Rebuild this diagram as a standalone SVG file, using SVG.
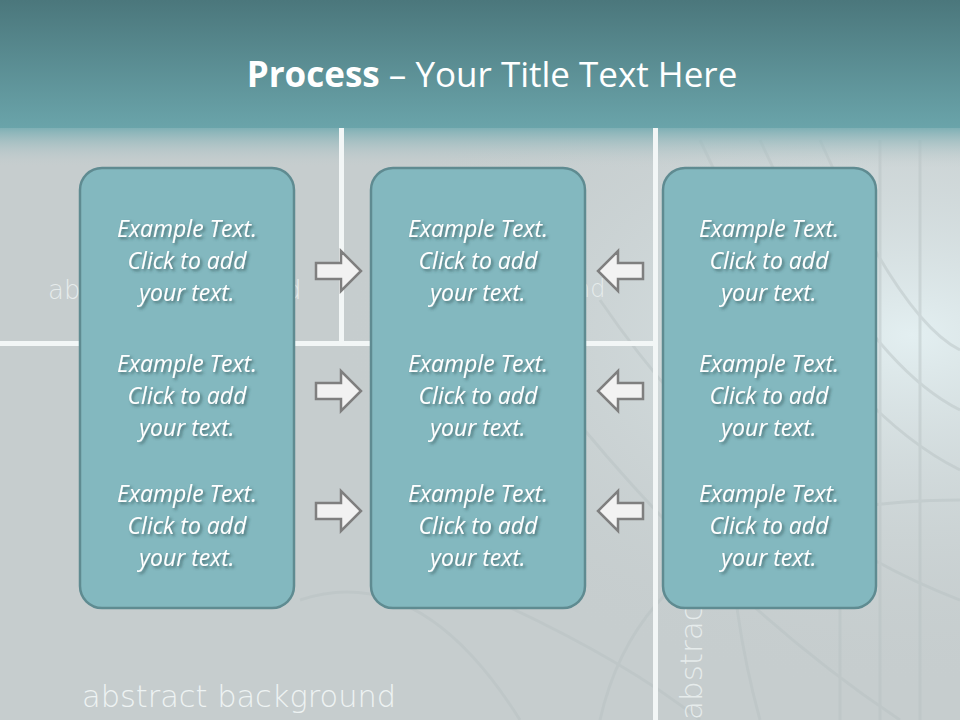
<svg xmlns="http://www.w3.org/2000/svg" width="960" height="720" viewBox="0 0 960 720">
<defs>
<linearGradient id="top" x1="0" y1="0" x2="0" y2="1">
<stop offset="0" stop-color="#4b777c"/>
<stop offset="1" stop-color="#6aa4aa"/>
</linearGradient>
<linearGradient id="fade" x1="0" y1="0" x2="0" y2="1">
<stop offset="0" stop-color="#7fb0b5"/>
<stop offset="1" stop-color="#c6cecf" stop-opacity="0"/>
</linearGradient>
<radialGradient id="glow" cx="0.95" cy="0.35" r="0.6">
<stop offset="0" stop-color="#e3eff1"/>
<stop offset="1" stop-color="#c6cdce" stop-opacity="0"/>
</radialGradient>
<filter id="sh" x="-10%" y="-10%" width="130%" height="140%">
<feDropShadow dx="2" dy="2" stdDeviation="1.5" flood-color="#2f4f53" flood-opacity="0.7"/>
</filter>
<style>
.box{fill:#83b8bf;stroke:#5f8b91;stroke-width:2.5}
.t{font-family:"Open Sans","Liberation Sans",sans-serif;font-style:italic;font-size:23px;fill:#ffffff;text-anchor:middle}
.arr{fill:#f2f2f2;stroke:#7f7f7f;stroke-width:2.5;stroke-linejoin:miter}
.grid{fill:none;stroke:#b7c1c2;stroke-width:3;opacity:0.45}
</style>
</defs>
<g id="background">
<rect width="960" height="720" fill="#c6cdce"/>
<rect x="0" y="128" width="960" height="592" fill="url(#glow)"/>
<g class="grid">
<path d="M700 140 Q820 400 960 470"/>
<path d="M760 140 Q860 360 960 410"/>
<path d="M820 140 Q900 320 960 350"/>
<path d="M600 300 Q750 520 960 600"/>
<path d="M560 400 Q720 600 900 720"/>
<path d="M400 560 Q600 640 700 720"/>
<path d="M880 140 L880 720"/>
<path d="M920 140 L920 720"/>
<path d="M840 170 L840 720"/>
<path d="M760 300 Q700 500 760 720"/>
<path d="M300 600 Q420 560 520 720"/>
<path d="M600 720 Q650 500 960 500"/>
</g>
<rect x="0" y="0" width="960" height="128" fill="url(#top)"/>
<rect x="0" y="128" width="960" height="40" fill="url(#fade)"/>
<rect x="339" y="128" width="5" height="214" fill="#f2f6f6"/>
<rect x="0" y="341" width="658" height="5" fill="#f2f6f6"/>
<rect x="653" y="128" width="5" height="592" fill="#f2f6f6"/>
<text x="48" y="299" font-family="DejaVu Sans, sans-serif" font-size="26" fill="#e6ecec" font-weight="200">ab</text>
<text x="285" y="299" font-family="DejaVu Sans, sans-serif" font-size="26" fill="#e6ecec" font-weight="200">d</text>
<text x="575" y="297" font-family="DejaVu Sans, sans-serif" font-size="24" fill="#e6ecec" font-weight="200">nd</text>
<text x="82" y="707" font-family="DejaVu Sans, sans-serif" font-size="31" fill="#eef3f3" font-weight="200" textLength="314" lengthAdjust="spacingAndGlyphs">abstract background</text>
<text transform="translate(702 720) rotate(-90)" font-family="DejaVu Sans, sans-serif" font-size="31" fill="#e6ecec" font-weight="200">abstract b</text>
</g>
<g id="title">
<text x="492" y="87" font-family="Open Sans,Liberation Sans,sans-serif" font-size="35" fill="#ffffff" text-anchor="middle"><tspan font-weight="bold">Process</tspan> – Your Title Text Here</text>
</g>
<g id="node-left">
<rect class="box" x="80" y="168" width="214" height="440" rx="22"/>
<g class="t" filter="url(#sh)">
<text class="t" x="187" y="237">Example Text.</text>
<text class="t" x="187" y="269">Click  to add</text>
<text class="t" x="187" y="301">your text.</text>
<text class="t" x="187" y="372">Example Text.</text>
<text class="t" x="187" y="404">Click  to add</text>
<text class="t" x="187" y="436">your text.</text>
<text class="t" x="187" y="502">Example Text.</text>
<text class="t" x="187" y="534">Click  to add</text>
<text class="t" x="187" y="566">your text.</text>
</g>
</g>
<g id="node-middle">
<rect class="box" x="371" y="168" width="214" height="440" rx="22"/>
<g class="t" filter="url(#sh)">
<text class="t" x="478" y="237">Example Text.</text>
<text class="t" x="478" y="269">Click  to add</text>
<text class="t" x="478" y="301">your text.</text>
<text class="t" x="478" y="372">Example Text.</text>
<text class="t" x="478" y="404">Click  to add</text>
<text class="t" x="478" y="436">your text.</text>
<text class="t" x="478" y="502">Example Text.</text>
<text class="t" x="478" y="534">Click  to add</text>
<text class="t" x="478" y="566">your text.</text>
</g>
</g>
<g id="node-right">
<rect class="box" x="663" y="168" width="213" height="440" rx="22"/>
<g class="t" filter="url(#sh)">
<text class="t" x="769" y="237">Example Text.</text>
<text class="t" x="769" y="269">Click  to add</text>
<text class="t" x="769" y="301">your text.</text>
<text class="t" x="769" y="372">Example Text.</text>
<text class="t" x="769" y="404">Click  to add</text>
<text class="t" x="769" y="436">your text.</text>
<text class="t" x="769" y="502">Example Text.</text>
<text class="t" x="769" y="534">Click  to add</text>
<text class="t" x="769" y="566">your text.</text>
</g>
</g>
<g id="connectors">
<path class="arr" d="M316 263 H341 V251 L361 271 L341 291 V279 H316 Z"/>
<path class="arr" d="M316 383 H341 V371 L361 391 L341 411 V399 H316 Z"/>
<path class="arr" d="M316 503 H341 V491 L361 511 L341 531 V519 H316 Z"/>
<path class="arr" d="M643 263 H618 V251 L598 271 L618 291 V279 H643 Z"/>
<path class="arr" d="M643 383 H618 V371 L598 391 L618 411 V399 H643 Z"/>
<path class="arr" d="M643 503 H618 V491 L598 511 L618 531 V519 H643 Z"/>
</g>
</svg>
